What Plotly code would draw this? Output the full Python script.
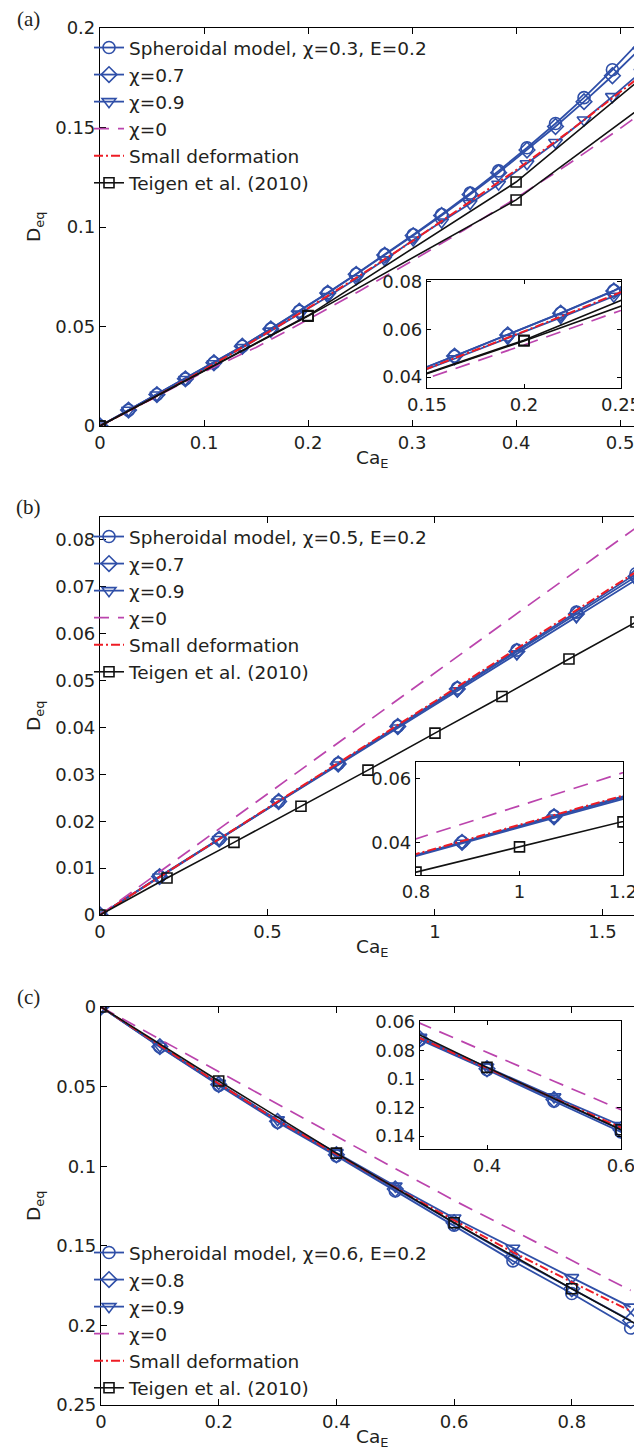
import plotly.graph_objects as go

# The page body keeps the browser's 8px margin, so the figure starts at (8, 8).
OFF = 8
W, H = 635, 1446

# ---------------- data: panel (a) ----------------
a_x = [0, 0.0274, 0.0547, 0.0821, 0.1095, 0.1368, 0.1642, 0.1916, 0.2189, 0.2463,
       0.2737, 0.3011, 0.3284, 0.3558, 0.3832, 0.4105, 0.4379, 0.4653, 0.4926, 0.52]
a_chi03 = [0, 0.0080, 0.0158, 0.0237, 0.0318, 0.0401, 0.0488, 0.0577, 0.0669, 0.0764,
           0.0861, 0.0961, 0.1063, 0.1170, 0.1282, 0.1398, 0.1520, 0.1650, 0.1790, 0.1940]
a_chi07 = [0, 0.0080, 0.0158, 0.0237, 0.0318, 0.0401, 0.0488, 0.0577, 0.0668, 0.0762,
           0.0859, 0.0957, 0.1058, 0.1163, 0.1273, 0.1387, 0.1505, 0.1630, 0.1760, 0.1900]
a_chi09 = [0, 0.0079, 0.0156, 0.0234, 0.0313, 0.0394, 0.0477, 0.0562, 0.0650, 0.0740,
           0.0835, 0.0935, 0.1025, 0.1118, 0.1215, 0.1318, 0.1425, 0.1538, 0.1655, 0.1778]
a_line_x = [0, 0.05, 0.1, 0.15, 0.2, 0.25, 0.3, 0.35, 0.4, 0.45, 0.5, 0.55]
a_chi0 = [0, 0.0135, 0.0272, 0.0395, 0.0535, 0.0680, 0.0830, 0.0985, 0.1145, 0.1315, 0.1495, 0.1685]
a_small = [0, 0.0138, 0.0283, 0.0435, 0.0592, 0.0757, 0.0928, 0.1105, 0.1286, 0.1476, 0.1678, 0.1880]
a_teigen_x = [0, 0.2, 0.4, 0.6]
a_teigen_1 = [0, 0.0555, 0.1226, 0.2090]
a_teigen_2 = [0, 0.0552, 0.1136, 0.1910]

# ---------------- data: panel (b) ----------------
b_x = [0, 0.1778, 0.3556, 0.5333, 0.7111, 0.8889, 1.0667, 1.2444, 1.4222, 1.6]
b_chi05 = [0, 0.0082, 0.0162, 0.0242, 0.0323, 0.0403, 0.0484, 0.0565, 0.0646, 0.0728]
b_chi07 = [0, 0.0082, 0.0162, 0.0242, 0.0322, 0.0402, 0.0482, 0.0562, 0.0642, 0.0722]
b_chi09 = [0, 0.0081, 0.0161, 0.0241, 0.0320, 0.0399, 0.0478, 0.0557, 0.0636, 0.0715]
b_line_x = [0, 0.2, 0.4, 0.6, 0.8, 1.0, 1.2, 1.4, 1.6, 1.62]
b_small = [0, 0.0091, 0.0182, 0.0273, 0.0364, 0.0456, 0.0548, 0.0640, 0.0732, 0.0741]
b_chi0_x = [0, 0.4, 0.8, 1.2, 1.6]
b_chi0 = [0, 0.0207, 0.0413, 0.0620, 0.0826]
b_teigen_x = [0, 0.2, 0.4, 0.6, 0.8, 1.0, 1.2, 1.4, 1.6]
b_teigen = [0, 0.0079, 0.0155, 0.0232, 0.0309, 0.0388, 0.0466, 0.0546, 0.0625]

# ---------------- data: panel (c) ----------------
c_x = [0, 0.1, 0.2, 0.3, 0.4, 0.5, 0.6, 0.7, 0.8, 0.9]
c_chi06 = [0, 0.0251, 0.0492, 0.0724, 0.0935, 0.1155, 0.1370, 0.1595, 0.1800, 0.2016]
c_chi08 = [0, 0.0249, 0.0487, 0.0718, 0.0928, 0.1143, 0.1355, 0.1570, 0.1770, 0.1970]
c_chi09 = [0, 0.0245, 0.0480, 0.0708, 0.0915, 0.1125, 0.1325, 0.1515, 0.1700, 0.1885]
c_small = [0, 0.0242, 0.0482, 0.0713, 0.0925, 0.1135, 0.1340, 0.1540, 0.1728, 0.1910]
c_chi0 = [0, 0.0203, 0.0406, 0.0612, 0.0815, 0.1015, 0.1215, 0.1405, 0.1595, 0.1780]
c_teigen_x = [0, 0.2, 0.4, 0.6, 0.8, 1.0]
c_teigen = [0, 0.0465, 0.0918, 0.1355, 0.1770, 0.2175]

# ---------------- tick labels ----------------
a_xticks = [0, 0.1, 0.2, 0.3, 0.4, 0.5]
a_yticks = [0, 0.05, 0.1, 0.15, 0.2]
a_in_xticks = [0.15, 0.2, 0.25]
a_in_yticks = [0.04, 0.06, 0.08]
b_xticks = [0, 0.5, 1, 1.5]
b_yticks = [0, 0.01, 0.02, 0.03, 0.04, 0.05, 0.06, 0.07, 0.08]
b_in_xticks = [0.8, 1, 1.2]
b_in_yticks = [0.04, 0.06]
c_xticks = [0, 0.2, 0.4, 0.6, 0.8]
c_yticks = [0, 0.05, 0.1, 0.15, 0.2, 0.25]
c_in_xticks = [0.4, 0.6]
c_in_yticks = [0.06, 0.08, 0.1, 0.12, 0.14]

BLUE = '#2f4fa8'
MAG = '#bb44ad'
RED = '#ee1c25'
BLK = '#111111'
TXT = '#231f20'
FONT = 'DejaVu Sans, Liberation Sans, Arial, sans-serif'
SERIF = 'Liberation Serif, Times New Roman, serif'
DASH_LONG = '15px,9px'
DASH_DOT = '9px,3px,2px,3px'


def px(p):
    return (p - OFF) / W


def py(p):
    return 1 - (p - OFF) / H


def fmt(v):
    return '%g' % v


fig = go.Figure()


def add_panel(xa, ya, legend, series, show_legend):
    for s in series:
        fig.add_trace(go.Scatter(
            x=s['x'], y=s['y'], xaxis=xa, yaxis=ya, mode=s['mode'],
            name=s['name'], legend=legend, showlegend=show_legend and s.get('leg', True),
            line=dict(color=s['color'], width=s['w'], dash=s.get('dash', 'solid')),
            marker=dict(symbol=s.get('sym', 'circle'), size=s.get('size', 10),
                        color=s['color'], line=dict(color=s['color'], width=1.6)),
            hoverinfo='skip'))


def series_a():
    return [
        dict(x=a_x, y=a_chi03, mode='lines+markers', name='Spheroidal model, χ=0.3, E=0.2', color=BLUE, w=1.8, sym='circle-open', size=12),
        dict(x=a_x, y=a_chi07, mode='lines+markers', name='χ=0.7', color=BLUE, w=1.8, sym='diamond-open', size=12),
        dict(x=a_x, y=a_chi09, mode='lines+markers', name='χ=0.9', color=BLUE, w=1.8, sym='triangle-down-open', size=12),
        dict(x=a_line_x, y=a_chi0, mode='lines', name='χ=0', color=MAG, w=1.7, dash=DASH_LONG),
        dict(x=a_line_x, y=a_small, mode='lines', name='Small deformation', color=RED, w=2, dash=DASH_DOT),
        dict(x=a_teigen_x, y=a_teigen_1, mode='lines+markers', name='Teigen et al. (2010)', color=BLK, w=1.6, sym='square-open', size=10),
        dict(x=a_teigen_x, y=a_teigen_2, mode='lines+markers', name='Teigen et al. (2010)', color=BLK, w=1.6, sym='square-open', size=10, leg=False),
    ]


def series_b():
    return [
        dict(x=b_x, y=b_chi05, mode='lines+markers', name='Spheroidal model, χ=0.5, E=0.2', color=BLUE, w=1.8, sym='circle-open', size=12),
        dict(x=b_x, y=b_chi07, mode='lines+markers', name='χ=0.7', color=BLUE, w=1.8, sym='diamond-open', size=12),
        dict(x=b_x, y=b_chi09, mode='lines+markers', name='χ=0.9', color=BLUE, w=1.8, sym='triangle-down-open', size=12),
        dict(x=b_chi0_x, y=b_chi0, mode='lines', name='χ=0', color=MAG, w=1.7, dash=DASH_LONG),
        dict(x=b_line_x, y=b_small, mode='lines', name='Small deformation', color=RED, w=2, dash=DASH_DOT),
        dict(x=b_teigen_x, y=b_teigen, mode='lines+markers', name='Teigen et al. (2010)', color=BLK, w=1.6, sym='square-open', size=10),
    ]


def series_c():
    return [
        dict(x=c_x, y=c_chi06, mode='lines+markers', name='Spheroidal model, χ=0.6, E=0.2', color=BLUE, w=1.8, sym='circle-open', size=12),
        dict(x=c_x, y=c_chi08, mode='lines+markers', name='χ=0.8', color=BLUE, w=1.8, sym='diamond-open', size=12),
        dict(x=c_x, y=c_chi09, mode='lines+markers', name='χ=0.9', color=BLUE, w=1.8, sym='triangle-down-open', size=12),
        dict(x=c_x, y=c_chi0, mode='lines', name='χ=0', color=MAG, w=1.7, dash=DASH_LONG),
        dict(x=c_x, y=c_small, mode='lines', name='Small deformation', color=RED, w=2, dash=DASH_DOT),
        dict(x=c_teigen_x, y=c_teigen, mode='lines+markers', name='Teigen et al. (2010)', color=BLK, w=1.6, sym='square-open', size=10),
    ]


add_panel('x', 'y', 'legend', series_a(), True)
add_panel('x2', 'y2', 'legend', series_a(), False)
add_panel('x3', 'y3', 'legend2', series_b(), True)
add_panel('x4', 'y4', 'legend2', series_b(), False)
add_panel('x5', 'y5', 'legend3', series_c(), True)
add_panel('x6', 'y6', 'legend3', series_c(), False)


def ax(domain, rng, ticks, anchor, ticklen=6):
    return dict(domain=domain, range=rng, anchor=anchor,
                tickvals=ticks, ticktext=[fmt(t) for t in ticks],
                showline=True, linecolor='black', linewidth=1.2, mirror='ticks',
                ticks='inside', ticklen=ticklen, tickcolor='black', tickwidth=1,
                showgrid=False, zeroline=False,
                tickfont=dict(family=FONT, size=18, color=TXT))


layout = dict(
    width=W, height=H, margin=dict(l=0, r=0, t=0, b=0, autoexpand=False),
    paper_bgcolor='white', plot_bgcolor='white', showlegend=True,
    hovermode=False,
    # panel (a)
    xaxis=ax([px(100), 1.0], [0, 0.522], a_xticks, 'y'),
    yaxis=ax([py(426), py(28)], [0, 0.2], a_yticks, 'x'),
    xaxis2=ax([px(427), px(621)], [0.15, 0.25], a_in_xticks, 'y2', 4),
    yaxis2=ax([py(388), py(280)], [0.0354, 0.0808], a_in_yticks, 'x2', 4),
    # panel (b)
    xaxis3=ax([px(100), 1.0], [0, 1.621], b_xticks, 'y3'),
    yaxis3=ax([py(915), py(517)], [0, 0.0849], b_yticks, 'x3'),
    xaxis4=ax([px(416), px(623)], [0.8, 1.2], b_in_xticks, 'y4', 4),
    yaxis4=ax([py(875), py(762)], [0.030, 0.0653], b_in_yticks, 'x4', 4),
    # panel (c)
    xaxis5=ax([px(101), 1.0], [0, 0.921], c_xticks, 'y5'),
    yaxis5=ax([py(1405), py(1007)], [0.25, 0], c_yticks, 'x5'),
    xaxis6=ax([px(420), px(621)], [0.3, 0.6], c_in_xticks, 'y6', 4),
    yaxis6=ax([py(1149), py(1021)], [0.149, 0.0593], c_in_yticks, 'x6', 4),
)

leg_common = dict(bgcolor='rgba(0,0,0,0)', borderwidth=0, xanchor='left', yanchor='top',
                  font=dict(family=FONT, size=18.5, color=TXT), tracegroupgap=0,
                  itemwidth=30)
layout['legend'] = dict(x=px(89), y=py(29), **leg_common)
layout['legend2'] = dict(x=px(89), y=py(518), **leg_common)
layout['legend3'] = dict(x=px(89), y=py(1234), **leg_common)

annots = []
for lbl, yy in [('(a)', 19), ('(b)', 507), ('(c)', 997)]:
    annots.append(dict(text=lbl, x=px(28), y=py(yy), xref='paper', yref='paper',
                       xanchor='center', yanchor='middle',
                       showarrow=False, font=dict(family=SERIF, size=21, color=TXT)))
for yy in [459, 948, 1438]:
    annots.append(dict(text='Ca<sub>E</sub>', x=px(372), y=py(yy), xref='paper', yref='paper',
                       xanchor='center', yanchor='middle',
                       showarrow=False, font=dict(family=FONT, size=18.5, color=TXT)))
for yy in [227, 716, 1206]:
    annots.append(dict(text='D<sub>eq</sub>', x=px(35), y=py(yy), xref='paper', yref='paper',
                       xanchor='center', yanchor='middle',
                       textangle=-90, showarrow=False, font=dict(family=FONT, size=18.5, color=TXT)))
layout['annotations'] = annots

fig.update_layout(**layout)
fig.write_html('out.html')
